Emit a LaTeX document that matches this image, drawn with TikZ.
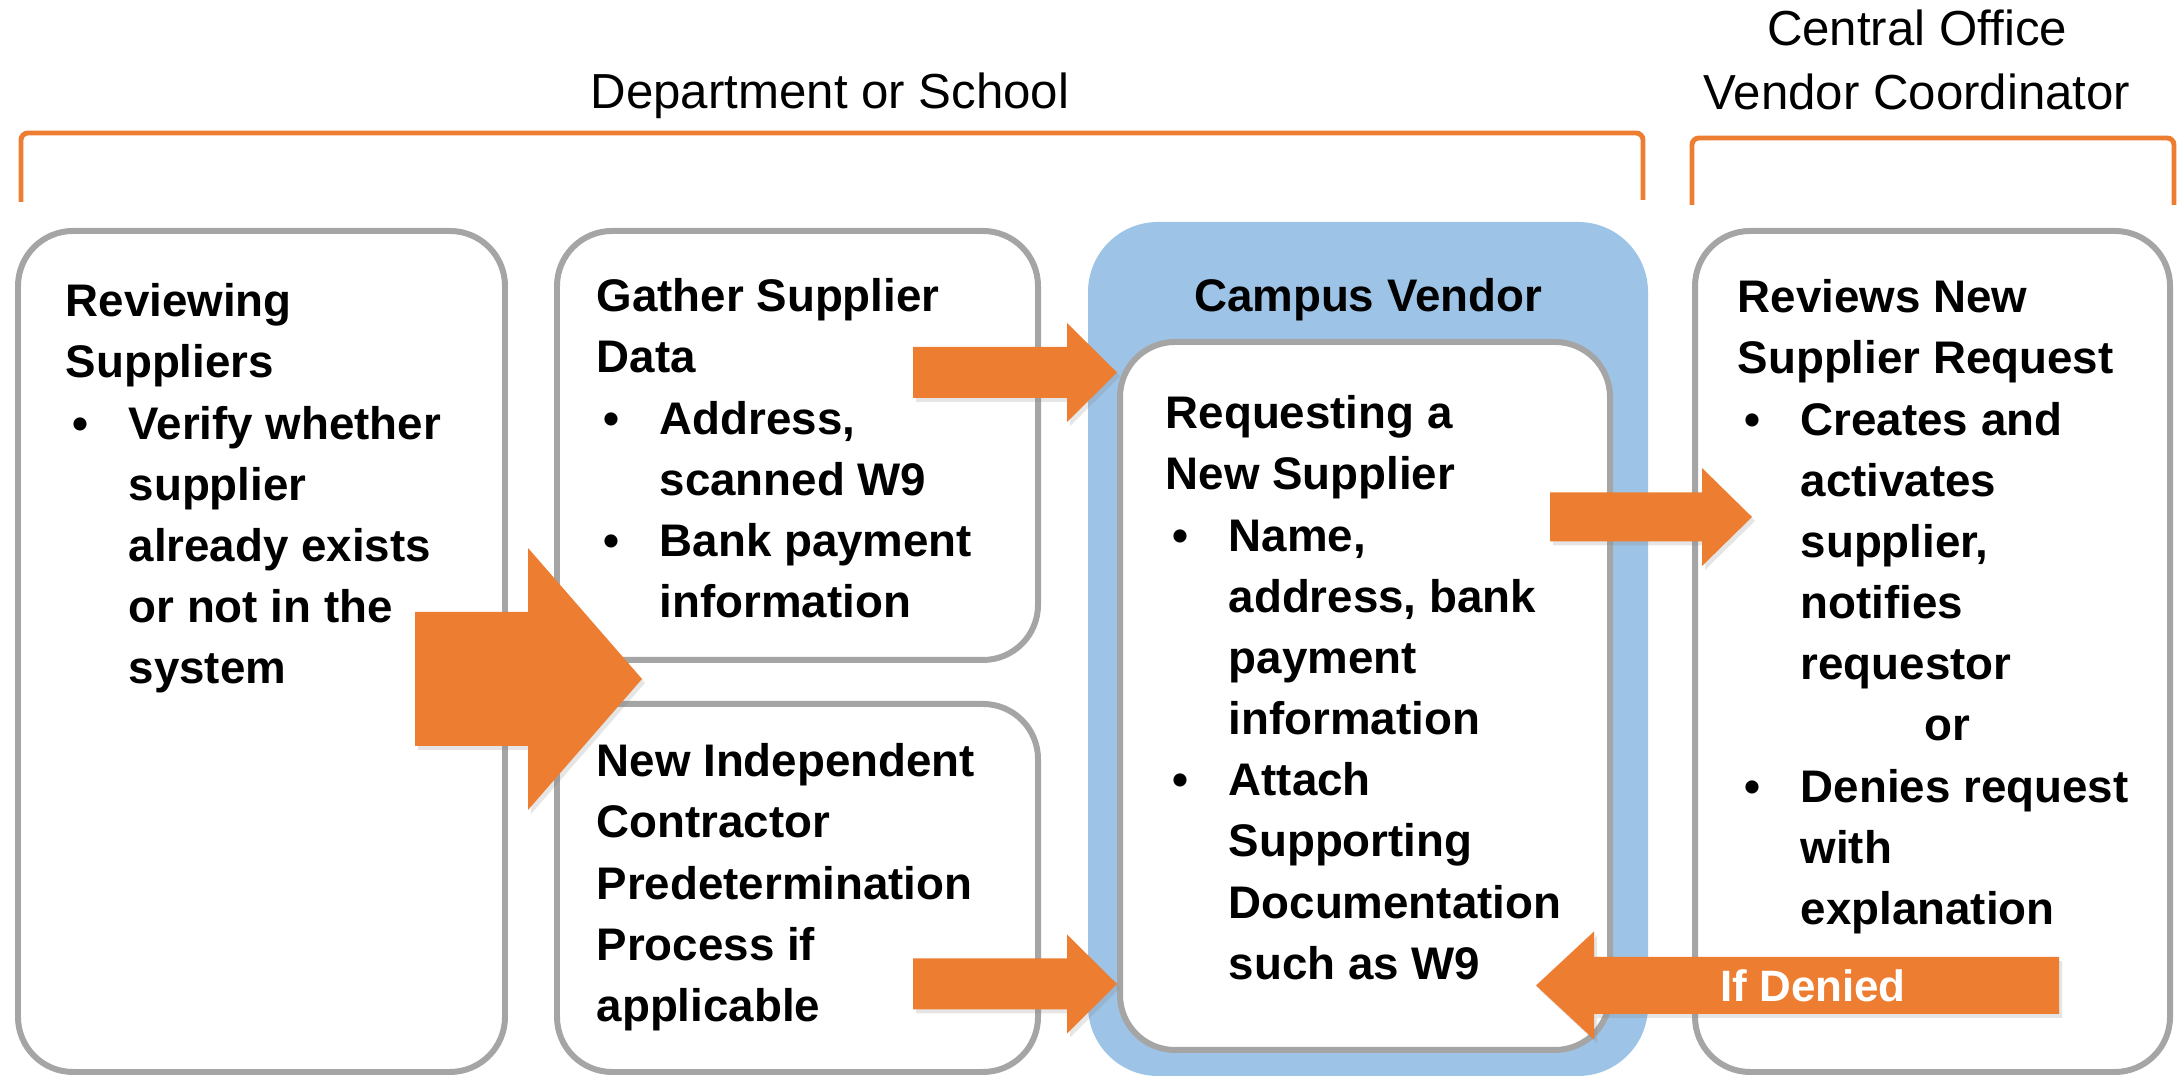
\documentclass[tikz,border=0pt]{standalone}
\usepackage{fontspec}
\setmainfont{Liberation Sans}
\usetikzlibrary{positioning}
\usetikzlibrary{calc}
\usetikzlibrary{shadows}

\definecolor{flowor}{HTML}{ED7D31}
\definecolor{flowgray}{HTML}{A5A5A5}
\definecolor{vendorblue}{HTML}{9DC3E6}

% bullet and hanging indent for the item lists
\newcommand{\bul}{\makebox[0.63cm][l]{\hspace*{0.07cm}\textbullet}}
\newcommand{\ind}{\hspace*{0.63cm}}

% fat horizontal arrow: from, to, half shaft, half head, head length
\newcommand{\blockarrow}[5]{%
  \path ($(#2)!#5!(#1)$) coordinate (hb);
  \fill[arrowfill] ([yshift=-#3]#1) -- ([yshift=-#3]hb) -- ([yshift=-#4]hb) -- (#2)
    -- ([yshift=#4]hb) -- ([yshift=#3]hb) -- ([yshift=#3]#1) -- cycle;}

\tikzset{
  procbox/.style={draw=flowgray,line width=1.7pt,fill=white,rounded corners=0.55cm,inner sep=0pt},
  boxtext/.style={anchor=north west,inner sep=0pt,align=left,font=\fontsize{13}{17.4}\selectfont\bfseries},
  bracket/.style={draw=flowor,line width=1.4pt,rounded corners=2pt},
  headlabel/.style={align=center,inner sep=0pt,font=\fontsize{14}{18.2}\selectfont},
  arrowfill/.style={fill=flowor,drop shadow={shadow xshift=0.03cm,shadow yshift=-0.04cm,opacity=0.2}},
}

\begin{document}
\begin{tikzpicture}
  \useasboundingbox (0,0) rectangle (21.77,10.78);

  % groups on top
  \path[bracket] (0.21,8.76) -- (0.21,9.45) -- (16.43,9.45) -- (16.43,8.78);
  \node[headlabel] (dept) at (8.30,9.82) {Department or School};
  \path[bracket] (16.92,8.73) -- (16.92,9.40) -- (21.74,9.40) -- (21.74,8.73);
  \node[headlabel] (central) at (19.17,10.18) {Central Office\\ Vendor Coordinator};

  % department boxes
  \node[procbox,minimum width=4.87cm,minimum height=8.41cm] (review) at (2.615,4.265) {};
  \node[procbox,minimum width=4.81cm,minimum height=4.29cm] (gather) at (7.975,6.325) {};
  \node[procbox,minimum width=4.81cm,minimum height=3.68cm] (contractor) at (7.975,1.90) {};

  % campus vendor
  \node[fill=vendorblue,rounded corners=0.7cm,minimum width=5.60cm,minimum height=8.54cm,inner sep=0pt] (vendor) at (13.68,4.29) {};
  \node[procbox,minimum width=4.90cm,minimum height=7.08cm] (request) at (13.65,3.82) {};
  \node[inner sep=0pt,font=\fontsize{13}{15}\selectfont\bfseries] (vendorlabel) at ([yshift=-0.78cm]vendor.north) {Campus Vendor};

  % central office
  \node[procbox,minimum width=4.75cm,minimum height=8.41cm] (approve) at (19.325,4.265) {};

  % texts
  \node[boxtext] (reviewtxt) at ([shift={(0.50,-0.55)}]review.north west)
    {Reviewing\\ Suppliers\\ \bul Verify whether\\ \ind supplier\\ \ind already exists\\ \ind or not in the\\ \ind system};
  \node[boxtext] (gathertxt) at ([shift={(0.42,-0.50)}]gather.north west)
    {Gather Supplier\\ Data\\ \bul Address,\\ \ind scanned W9\\ \bul Bank payment\\ \ind information};
  \node[boxtext] (contractortxt) at ([shift={(0.42,-0.42)}]contractor.north west)
    {New Independent\\ Contractor\\ Predetermination\\ Process if\\ applicable};
  \node[boxtext] (requesttxt) at ([shift={(0.48,-0.56)}]request.north west)
    {Requesting a\\ New Supplier\\ \bul Name,\\ \ind address, bank\\ \ind payment\\ \ind information\\ \bul Attach\\ \ind Supporting\\ \ind Documentation\\ \ind such as W9};
  \node[boxtext] (approvetxt) at ([shift={(0.45,-0.51)}]approve.north west)
    {Reviews New\\ Supplier Request\\ \bul Creates and\\ \ind activates\\ \ind supplier,\\ \ind notifies\\ \ind requestor\\ \hspace*{1.87cm}or\\ \bul Denies request\\ \ind with\\ \ind explanation};

  % arrows
  \coordinate (revout) at (4.15,3.99);
  \coordinate (revin) at (6.42,3.99);
  \blockarrow{revout}{revin}{0.67cm}{1.31cm}{1.14cm}

  \coordinate (gathout) at (9.13,7.055);
  \coordinate (gathin) at (request.west |- gathout);
  \blockarrow{gathout}{gathin}{0.255cm}{0.495cm}{0.50cm}

  \coordinate (controut) at (9.13,0.94);
  \coordinate (contrin) at (request.west |- controut);
  \blockarrow{controut}{contrin}{0.255cm}{0.495cm}{0.50cm}

  \coordinate (reqout) at (15.50,5.61);
  \coordinate (reqin) at (17.52,5.61);
  \blockarrow{reqout}{reqin}{0.245cm}{0.49cm}{0.50cm}

  % sent back
  \coordinate (denyout) at (20.59,0.925);
  \coordinate (denyin) at (15.36,0.925);
  \blockarrow{denyout}{denyin}{0.285cm}{0.54cm}{0.58cm}
  \node[inner sep=0pt,text=white,font=\fontsize{12.5}{14}\selectfont\bfseries] (denied) at (18.13,0.925) {If Denied};

\end{tikzpicture}
\end{document}
